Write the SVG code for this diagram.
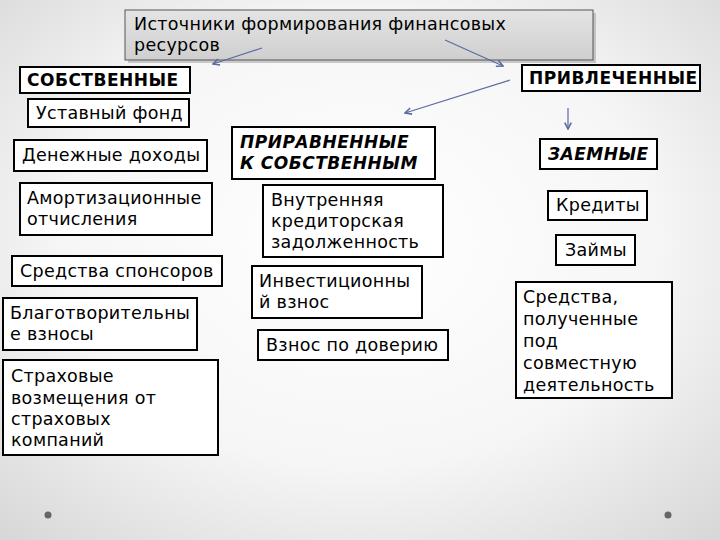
<svg xmlns="http://www.w3.org/2000/svg" width="720" height="540" viewBox="0 0 720 540">
<defs>
<radialGradient id="bg" cx="0.5" cy="0.45" r="0.75">
<stop offset="0" stop-color="#ffffff"/>
<stop offset="0.55" stop-color="#f6f6f6"/>
<stop offset="1" stop-color="#d6d6d6"/>
</radialGradient>
<linearGradient id="tg" x1="0" y1="0" x2="0" y2="1">
<stop offset="0" stop-color="#e4e4e4"/>
<stop offset="1" stop-color="#cfcfcf"/>
</linearGradient>
<marker id="ah" viewBox="0 0 10 10" refX="9" refY="5" markerWidth="8" markerHeight="8" orient="auto" markerUnits="userSpaceOnUse">
<path d="M1,1 L9,5 L1,9" fill="none" stroke="#5b6aa3" stroke-width="2"/>
</marker>
<style>
.box{fill:#ffffff;stroke:#000;stroke-width:2}
.t{font-family:"DejaVu Sans",sans-serif;font-size:17.5px;letter-spacing:0.3px;fill:#000}
.tt{font-family:"DejaVu Sans",sans-serif;font-size:17.5px;letter-spacing:0.3px;fill:#000}
.h{font-family:"DejaVu Sans",sans-serif;font-size:17px;letter-spacing:0.5px;font-weight:bold;fill:#000}
.hi{font-family:"DejaVu Sans",sans-serif;font-size:17px;letter-spacing:0.5px;font-weight:bold;font-style:italic;fill:#000}
.c{fill:none;stroke:#5b6aa3;stroke-width:1.2;marker-end:url(#ah)}
</style>
</defs>
<rect width="720" height="540" fill="url(#bg)"/>
<g id="title">
<rect x="128" y="13" width="468" height="50" fill="#aaaaaa" opacity="0.6"/>
<rect x="125" y="10" width="468" height="50" fill="url(#tg)" stroke="#555" stroke-width="1"/>
<text class="tt" x="134" y="30">Источники формирования финансовых</text>
<text class="tt" x="134" y="51">ресурсов</text>
</g>
<g id="sobstv"><rect class="box" x="20" y="67" width="170" height="26"/><text class="h" x="27" y="86">СОБСТВЕННЫЕ</text></g>
<g id="privl"><rect class="box" x="522" y="65" width="178" height="26"/><text class="h" x="529" y="84">ПРИВЛЕЧЕННЫЕ</text></g>
<g id="ustav"><rect class="box" x="28" y="99" width="161" height="28"/><text class="t" x="36" y="119">Уставный фонд</text></g>
<g id="denezh"><rect class="box" x="14" y="140" width="193" height="31"/><text class="t" x="22" y="161">Денежные доходы</text></g>
<g id="priravn"><rect class="box" x="232" y="127" width="203" height="52"/><text class="hi" x="240" y="148">ПРИРАВНЕННЫЕ</text><text class="hi" x="240" y="169">К СОБСТВЕННЫМ</text></g>
<g id="zaem"><rect class="box" x="540" y="139" width="117" height="30"/><text class="hi" x="548" y="160">ЗАЕМНЫЕ</text></g>
<g id="amort"><rect class="box" x="20" y="183" width="192" height="52"/><text class="t" x="27" y="204">Амортизационные</text><text class="t" x="27" y="225">отчисления</text></g>
<g id="vnutr"><rect class="box" x="263" y="185" width="180" height="72"/><text class="t" x="271" y="206">Внутренняя</text><text class="t" x="271" y="227">кредиторская</text><text class="t" x="271" y="248">задолженность</text></g>
<g id="kredit"><rect class="box" x="548" y="191" width="99" height="29"/><text class="t" x="556" y="211">Кредиты</text></g>
<g id="zaim"><rect class="box" x="556" y="235" width="79" height="30"/><text class="t" x="565" y="256">Займы</text></g>
<g id="sponsor"><rect class="box" x="12" y="256" width="210" height="30"/><text class="t" x="20" y="277">Средства спонсоров</text></g>
<g id="invest"><rect class="box" x="252" y="266" width="170" height="52"/><text class="t" x="259" y="287">Инвестиционны</text><text class="t" x="259" y="308">й взнос</text></g>
<g id="sovm"><rect class="box" x="516" y="282" width="156" height="116"/><text class="t" x="523" y="303">Средства,</text><text class="t" x="523" y="325">полученные</text><text class="t" x="523" y="347">под</text><text class="t" x="523" y="369">совместную</text><text class="t" x="523" y="391">деятельность</text></g>
<g id="blago"><rect class="box" x="3" y="298" width="194" height="52"/><text class="t" x="10" y="319">Благотворительны</text><text class="t" x="10" y="340">е взносы</text></g>
<g id="doverie"><rect class="box" x="258" y="330" width="190" height="30"/><text class="t" x="266" y="351">Взнос по доверию</text></g>
<g id="strah"><rect class="box" x="3" y="360" width="215" height="95"/><text class="t" x="11" y="382">Страховые</text><text class="t" x="11" y="404">возмещения от</text><text class="t" x="11" y="425">страховых</text><text class="t" x="11" y="446">компаний</text></g>
<g id="connectors">
<line class="c" x1="262" y1="48" x2="213" y2="64"/>
<line class="c" x1="445" y1="40" x2="503" y2="66"/>
<line class="c" x1="510" y1="80" x2="405" y2="113"/>
<line class="c" x1="568" y1="108" x2="568" y2="129"/>
</g>
<g id="dots" fill="#666666"><circle cx="48" cy="515" r="3.5"/><circle cx="668" cy="515" r="3.5"/></g>
</svg>
